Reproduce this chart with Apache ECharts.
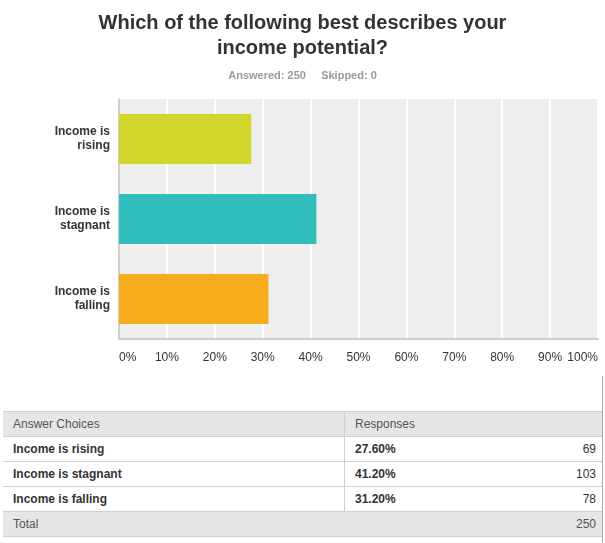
<!DOCTYPE html>
<html>
<head>
<meta charset="utf-8">
<script src="https://cdn.jsdelivr.net/npm/echarts@6/dist/echarts.min.js"></script>
<style>
  html, body { margin: 0; padding: 0; background: #fff; }
  #wrap { position: relative; width: 605px; height: 543px; overflow: hidden; font-family: "Liberation Sans", Arial, sans-serif; }
  #chart { position: absolute; left: 0; top: 0; width: 605px; height: 380px; }
  #edge { position: absolute; left: 602px; top: 376px; width: 1px; height: 167px; background: #a8a8a8; }
  #tbl { position: absolute; left: 3px; top: 411px; width: 599px; border-collapse: collapse; font-size: 12px; color: #333; }
  #tbl td { height: 24px; padding: 0 10px; border-top: 1px solid #d0d0d0; border-bottom: 1px solid #d0d0d0; }
  #tbl tr.head td, #tbl tr.total td { background: #e6e6e6; color: #555; font-weight: normal; }
  #tbl td.c1 { width: 321px; border-right: 1px solid #d0d0d0; font-weight: bold; }
  #tbl td.c2 { width: 100px; font-weight: bold; }
  #tbl td.c3 { text-align: right; padding-right: 6px; }
</style>
</head>
<body>
<div id="wrap">
  <div id="chart"></div>
  <div id="edge"></div>
  <table id="tbl"></table>
</div>
<script>
const categories = ['Income is rising', 'Income is stagnant', 'Income is falling']
const percents = [27.6, 41.2, 31.2]
const counts = [69, 103, 78]
const answered = 250
const skipped = 0
const xTicks = [0, 10, 20, 30, 40, 50, 60, 70, 80, 90, 100]
const barColors = ['#d0d72a', '#32bdbd', '#f7ad1b']

const chart = echarts.init(document.getElementById('chart'))

const option = {
  animation: false,
  textStyle: { fontFamily: '"Liberation Sans", Arial, sans-serif' },
  title: [{
    text: 'Which of the following best describes your\nincome potential?',
    left: 'center',
    top: 6,
    textStyle: { fontSize: 20, fontWeight: 'bold', color: '#333', lineHeight: 25, align: 'center' }
  }, {
    text: 'Answered: ' + answered + '     Skipped: ' + skipped,
    left: 'center',
    top: 65,
    textStyle: { fontSize: 11, fontWeight: 'bold', color: '#999' }
  }],
  grid: {
    left: 119,
    right: 7,
    top: 99,
    bottom: 41,
    show: true,
    backgroundColor: '#eeeeee',
    borderWidth: 0
  },
  xAxis: {
    type: 'value',
    min: xTicks[0],
    max: xTicks[xTicks.length - 1],
    interval: 10,
    axisLine: { show: true, lineStyle: { color: '#cfcfcf', width: 2 } },
    axisTick: { show: false },
    splitLine: { show: true, lineStyle: { color: '#ffffff', width: 2 } },
    axisLabel: {
      color: '#333',
      fontSize: 12,
      margin: 13,
      alignMinLabel: 'left',
      alignMaxLabel: 'right',
      formatter: '{value}%'
    }
  },
  yAxis: {
    type: 'category',
    inverse: true,
    data: categories,
    axisLine: { show: true, lineStyle: { color: '#cfcfcf', width: 2 } },
    axisTick: { show: false },
    axisLabel: {
      color: '#333',
      fontSize: 12,
      fontWeight: 'bold',
      lineHeight: 14,
      margin: 9,
      formatter: v => v.replace('is ', 'is\n')
    }
  },
  series: [{
    type: 'bar',
    barWidth: 50,
    data: percents.map((v, i) => ({ value: v, itemStyle: { color: barColors[i] } }))
  }]
}

chart.setOption(option)

// response table under the chart
let html = '<tr class="head"><td class="c1" style="font-weight:normal">Answer Choices</td><td class="c2" style="font-weight:normal">Responses</td><td class="c3"></td></tr>'
categories.forEach((c, i) => {
  html += '<tr><td class="c1">' + c + '</td><td class="c2">' + percents[i].toFixed(2) + '%</td><td class="c3">' + counts[i] + '</td></tr>'
})
html += '<tr class="total"><td colspan="2">Total</td><td class="c3">' + answered + '</td></tr>'
document.getElementById('tbl').innerHTML = html
</script>
</body>
</html>
